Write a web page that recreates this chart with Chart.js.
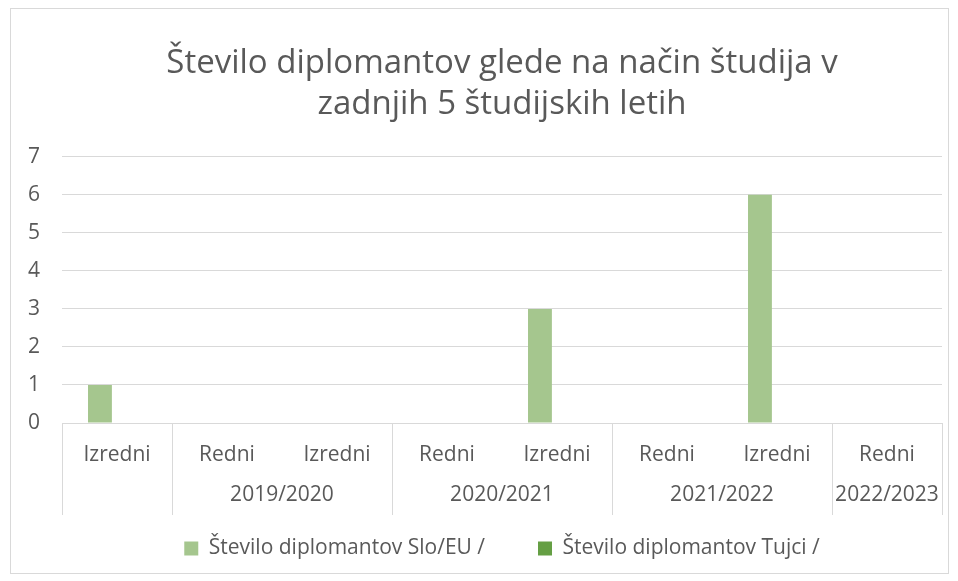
<!DOCTYPE html>
<html>
<head>
<meta charset="utf-8">
<script src="https://cdn.jsdelivr.net/npm/chart.js@4/dist/chart.umd.min.js"></script>
<style>
  html, body { margin: 0; padding: 0; background: #fff; }
  #wrap { width: 958px; height: 581px; }
</style>
</head>
<body>
<div id="wrap"><canvas id="myChart" width="958" height="581"></canvas></div>
<script>
const kategorije = ["Izredni", "Redni", "Izredni", "Redni", "Izredni", "Redni", "Izredni", "Redni"];
const leta = ["", "2019/2020", "2019/2020", "2020/2021", "2020/2021", "2021/2022", "2021/2022", "2022/2023"];
const sloEU = [1, 0, 0, 0, 3, 0, 6, 0];
const tujci = [0, 0, 0, 0, 0, 0, 0, 0];
const yTicks = [0, 1, 2, 3, 4, 5, 6, 7];

const siva = "#595959";
const crta = "#d9d9d9";
const pisava = "'Open Sans', 'Noto Sans', sans-serif";
const velikost = 21;

Chart.defaults.font.family = pisava;
Chart.defaults.color = siva;

// okvir grafa, locilne crte in leta pod kategorijami
const skupine = {
  id: "skupine",
  beforeDraw(chart) {
    const { ctx } = chart;
    ctx.save();
    ctx.fillStyle = "#fff";
    ctx.fillRect(0, 0, chart.width, chart.height);
    ctx.strokeStyle = crta;
    ctx.lineWidth = 1;
    ctx.strokeRect(10.5, 8.5, 938, 565);
    ctx.restore();
  },
  afterDraw(chart) {
    const { ctx, chartArea } = chart;
    const x = chart.scales.x;
    const pol = (x.getPixelForValue(1) - x.getPixelForValue(0)) / 2;
    const spodaj = 515;
    ctx.save();
    ctx.strokeStyle = crta;
    ctx.lineWidth = 1;
    const meje = [];
    leta.forEach((l, i) => {
      if (i === 0 || l !== leta[i - 1]) meje.push(i);
    });
    const crte = meje.map((i) => x.getPixelForValue(i) - pol);
    crte.push(x.getPixelForValue(leta.length - 1) + pol);
    crte.forEach((px) => {
      ctx.beginPath();
      ctx.moveTo(Math.round(px) + 0.5, chartArea.bottom);
      ctx.lineTo(Math.round(px) + 0.5, spodaj);
      ctx.stroke();
    });
    ctx.fillStyle = siva;
    ctx.font = velikost + "px " + pisava;
    ctx.textAlign = "center";
    ctx.textBaseline = "middle";
    meje.forEach((zac, k) => {
      const kon = k + 1 < meje.length ? meje[k + 1] - 1 : leta.length - 1;
      const cx = (x.getPixelForValue(zac) + x.getPixelForValue(kon)) / 2;
      ctx.fillText(leta[zac], cx, 495);
    });
    ctx.restore();
  },
};

const data = {
  labels: kategorije,
  datasets: [
    {
      label: "Število diplomantov Slo/EU /",
      data: sloEU,
      backgroundColor: "#a5c68e",
      categoryPercentage: 0.62,
      barPercentage: 0.7,
    },
    {
      label: "Število diplomantov Tujci /",
      data: tujci,
      backgroundColor: "#659f44",
      categoryPercentage: 0.62,
      barPercentage: 0.7,
    },
  ],
};

const config = {
  type: "bar",
  data,
  plugins: [skupine],
  options: {
    responsive: false,
    animation: false,
    layout: { padding: { top: 0, left: 0, right: 16, bottom: 12 } },
    plugins: {
      title: {
        display: true,
        fullSize: false,
        text: ["Število diplomantov glede na način študija v", "zadnjih 5 študijskih letih"],
        color: siva,
        font: { size: 33, weight: "normal", lineHeight: 1.24 },
        padding: { top: 43, bottom: 32 },
      },
      legend: {
        position: "bottom",
        fullSize: false,
        labels: {
          boxWidth: 14,
          boxHeight: 14,
          padding: 53,
          color: siva,
          font: { size: velikost },
        },
      },
      tooltip: { enabled: false },
    },
    scales: {
      x: {
        grid: { display: false },
        border: { display: false },
        ticks: { padding: 11, font: { size: velikost }, color: siva, maxRotation: 0 },
        afterFit(scale) {
          scale.height = 62;
        },
      },
      y: {
        min: 0,
        max: 7,
        grid: { color: crta, lineWidth: 1, drawTicks: false },
        border: { display: false },
        afterBuildTicks(scale) {
          scale.ticks = yTicks.map((v) => ({ value: v }));
        },
        ticks: { padding: 22, font: { size: velikost }, color: siva },
        afterFit(scale) {
          scale.width = 62;
        },
      },
    },
  },
};

const myChart = new Chart(document.getElementById("myChart"), config);
</script>
</body>
</html>
